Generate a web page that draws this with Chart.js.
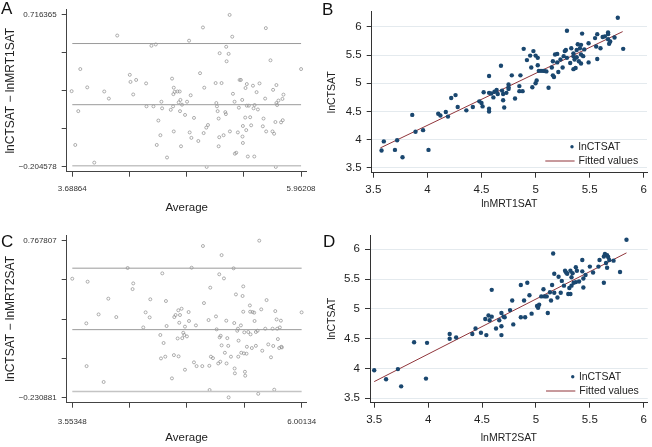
<!DOCTYPE html>
<html>
<head>
<meta charset="utf-8">
<script src="https://cdn.jsdelivr.net/npm/chart.js@4.4.1/dist/chart.umd.min.js"></script>
<style>
  body { margin: 0; background: #fff; }
  #wrap { position: relative; width: 652px; height: 447px; overflow: hidden; font-family: "Liberation Sans", Arial, sans-serif; }
  #wrap canvas { position: absolute; }
  .letter { position: absolute; font-size: 17px; line-height: 17px; color: #111; }
</style>
</head>
<body>
<div id="wrap">
  <canvas id="cA" width="326" height="220" style="left:0;top:0"></canvas>
  <canvas id="cB" width="326" height="220" style="left:326px;top:0"></canvas>
  <canvas id="cC" width="326" height="227" style="left:0;top:220px"></canvas>
  <canvas id="cD" width="326" height="227" style="left:326px;top:220px"></canvas>
  <div class="letter" style="left:1px;top:0">A</div>
  <div class="letter" style="left:322px;top:1px">B</div>
  <div class="letter" style="left:1px;top:233px">C</div>
  <div class="letter" style="left:323px;top:233px">D</div>
</div>
<script>
// ---- A: Bland-Altman lnCTSAT vs lnMRT1SAT ----
const avgA = [3.682,3.718,3.748,3.768,3.837,3.907,4.006,4.052,4.135,4.260,
  4.267,4.294,4.323,4.422,4.426,4.475,4.495,4.518,4.528,4.544,
  4.564,4.574,4.581,4.630,4.667,4.680,4.690,4.693,4.697,4.697,
  4.706,4.733,4.746,4.756,4.759,4.763,4.769,4.779,4.809,4.829,
  4.849,4.855,4.865,4.872,4.898,4.941,4.958,4.987,4.994,5.000,
  5.020,5.024,5.037,5.113,5.120,5.126,5.133,5.143,5.143,5.149,
  5.153,5.172,5.192,5.209,5.215,5.218,5.222,5.242,5.252,5.255,
  5.278,5.285,5.301,5.304,5.318,5.334,5.344,5.351,5.364,5.377,
  5.380,5.384,5.384,5.407,5.410,5.417,5.423,5.423,5.433,5.443,
  5.456,5.466,5.484,5.490,5.497,5.500,5.520,5.533,5.549,5.582,
  5.589,5.605,5.612,5.615,5.658,5.678,5.684,5.694,5.707,5.711,
  5.717,5.717,5.724,5.737,5.763,5.780,5.777,5.787,5.962];
const diffA = [0.254,-0.072,0.133,0.388,0.277,-0.179,0.252,0.209,0.591,0.353,
  0.310,0.234,0.322,0.301,0.162,0.529,0.162,0.537,-0.072,0.076,
  -0.013,0.190,0.150,-0.148,0.141,0.330,0.162,0.236,0.010,0.275,
  0.250,0.252,0.186,0.252,0.133,0.201,-0.080,0.172,0.110,0.190,
  0.560,0.004,0.229,-0.029,0.092,-0.048,0.363,0.640,0.000,0.275,
  0.033,-0.205,0.049,0.303,0.182,0.162,0.133,0.088,-0.080,-0.025,
  0.484,0.303,-0.013,0.127,0.115,0.523,0.435,0.480,0.716,0.010,
  0.584,0.238,0.190,-0.125,-0.119,0.004,0.154,0.322,0.322,0.201,
  -0.021,-0.060,0.043,0.094,0.273,0.018,0.297,0.166,-0.142,0.166,
  0.096,0.047,0.287,0.150,-0.142,0.170,0.248,0.143,0.301,0.041,
  0.088,0.209,0.636,0.010,0.441,0.010,0.262,-0.004,0.067,-0.205,
  0.291,0.182,0.170,0.197,0.065,0.078,0.207,0.233,0.388];
const limitsA = [0.5426, 0.1720, -0.1987];   // upper, mean, lower
const xEndsA = [3.68864, 5.96208];
const yEndsA = [-0.204578, 0.716365];

// ---- B: lnCTSAT vs lnMRT1SAT ----
const mrt1B = [3.576,3.597,3.70,3.72,3.77,3.86,3.89,3.96,4.01,4.10,
  4.12,4.17,4.19,4.22,4.26,4.28,4.36,4.42,4.48,4.50,
  4.51,4.52,4.57,4.57,4.57,4.57,4.59,4.61,4.62,4.64,
  4.65,4.68,4.69,4.70,4.71,4.73,4.75,4.75,4.75,4.70,
  4.78,4.81,4.85,4.86,4.85,4.88,4.89,4.92,4.95,4.96,
  4.97,4.98,5.00,5.00,5.01,5.02,5.02,5.03,5.05,5.07,
  5.08,5.10,5.12,5.15,5.16,5.16,5.17,5.18,5.20,5.20,
  5.21,5.23,5.25,5.26,5.27,5.28,5.29,5.29,5.32,5.33,
  5.35,5.35,5.35,5.37,5.36,5.38,5.39,5.40,5.41,5.42,
  5.42,5.43,5.44,5.45,5.42,5.38,5.49,5.49,5.55,5.56,
  5.57,5.57,5.60,5.62,5.64,5.67,5.67,5.68,5.69,5.73,
  5.76,5.81,5.67];
const ctB = [3.81,3.97,3.82,3.99,3.69,4.44,4.14,4.17,3.82,4.46,
  4.43,4.49,4.41,4.74,4.79,4.58,4.52,4.58,4.68,4.65,
  4.59,4.84,5.13,4.55,4.50,4.83,4.82,4.75,4.85,4.88,
  4.81,5.31,4.87,4.70,4.57,4.83,4.90,4.98,4.93,4.81,
  5.14,4.73,4.95,5.14,4.86,4.86,5.61,5.41,5.49,5.28,
  4.93,5.57,5.49,5.00,5.05,5.32,5.45,5.22,5.22,5.22,
  5.22,5.21,4.92,5.28,5.39,5.14,5.11,5.51,5.52,5.37,
  5.20,5.42,5.28,5.48,5.57,5.59,5.93,5.45,5.36,5.62,
  5.48,5.53,5.25,5.27,5.42,5.59,5.69,5.39,5.62,5.51,
  5.35,5.88,5.48,5.60,5.68,5.46,5.37,5.71,5.80,5.65,
  5.87,5.43,5.62,5.82,5.83,5.87,5.90,5.70,5.74,5.81,
  6.16,5.61,5.78];
const fitXB = [3.565, 5.805];
const fitYB = [3.855, 5.915];

// ---- C: Bland-Altman lnCTSAT vs lnMRT2SAT ----
const avgC = [3.553,3.703,3.706,3.717,3.834,3.888,3.938,4.023,4.144,4.197,
  4.204,4.311,4.336,4.379,4.386,4.493,4.500,4.514,4.528,4.546,
  4.553,4.560,4.617,4.638,4.642,4.656,4.678,4.685,4.688,4.695,
  4.703,4.720,4.727,4.738,4.749,4.756,4.756,4.777,4.795,4.799,
  4.827,4.852,4.873,4.880,4.941,4.948,4.959,5.008,5.016,5.019,
  5.026,5.033,5.055,5.087,5.094,5.111,5.122,5.126,5.133,5.137,
  5.147,5.147,5.172,5.182,5.197,5.200,5.208,5.218,5.222,5.247,
  5.275,5.282,5.286,5.289,5.300,5.314,5.321,5.325,5.328,5.353,
  5.357,5.371,5.378,5.378,5.385,5.389,5.396,5.399,5.413,5.417,
  5.431,5.449,5.452,5.456,5.470,5.477,5.495,5.499,5.513,5.531,
  5.513,5.538,5.549,5.570,5.581,5.613,5.627,5.645,5.674,5.691,
  5.698,5.709,5.720,5.734,5.741,5.748,5.762,5.769,5.780,5.784,
  5.791,6.001];
const diffC = [0.526,0.242,-0.030,0.507,0.299,-0.131,0.399,0.282,0.594,0.460,
  0.496,0.216,0.312,0.280,0.395,0.168,0.019,0.560,0.117,0.030,
  0.384,0.225,-0.108,0.040,0.282,0.295,0.146,0.325,0.032,0.246,
  0.295,0.335,0.148,0.182,0.168,-0.053,0.221,0.159,0.314,0.257,
  0.596,-0.006,0.229,-0.030,-0.030,0.734,0.371,0.263,-0.028,-0.182,
  0.469,0.030,0.021,0.286,0.204,-0.013,0.554,0.153,-0.002,0.163,
  0.676,0.102,0.528,0.055,0.259,-0.013,0.148,0.099,-0.229,0.030,
  0.592,0.244,-0.045,-0.076,0.426,0.195,0.208,0.030,0.132,0.229,
  0.055,0.416,0.477,0.316,0.051,0.185,-0.066,-0.091,0.049,0.093,
  0.187,0.356,0.316,0.172,0.085,0.314,0.310,0.257,0.187,0.195,
  0.099,-0.206,0.768,0.331,0.068,0.208,0.390,0.108,0.026,0.208,
  0.098,-0.180,0.320,0.267,0.208,0.142,0.085,0.216,0.259,0.093,
  0.089,0.312];
const limitsC = [0.593, 0.202, -0.191];
const xEndsC = [3.55348, 6.00134];
const yEndsC = [-0.230881, 0.767807];

// ---- D: lnCTSAT vs lnMRT2SAT ----
const mrt2D = [3.50,3.61,3.72,3.75,3.87,3.98,3.99,4.20,4.20,4.26,
  4.41,4.44,4.49,4.53,4.54,4.56,4.57,4.59,4.59,4.63,
  4.66,4.68,4.68,4.68,4.70,4.71,4.76,4.78,4.79,4.86,
  4.86,4.89,4.90,4.92,4.94,4.96,5.01,5.02,5.03,5.05,
  5.07,5.08,5.10,5.11,5.13,5.14,5.15,5.16,5.17,5.17,
  5.20,5.21,5.23,5.24,5.26,5.27,5.28,5.29,5.30,5.31,
  5.32,5.32,5.33,5.33,5.34,5.35,5.37,5.37,5.38,5.40,
  5.43,5.43,5.44,5.44,5.46,5.50,5.53,5.58,5.59,5.63,
  5.63,5.64,5.65,5.66,5.66,5.67,5.68,5.72,5.78,5.84];
const ctD = [3.97,3.82,3.99,3.70,4.44,3.83,4.43,4.58,4.50,4.52,
  4.58,4.67,4.60,4.83,4.56,4.89,4.81,4.87,5.32,4.67,
  4.81,4.93,4.71,4.56,4.87,4.86,4.98,5.14,4.74,5.40,
  4.86,5.14,4.86,5.44,5.23,4.92,5.05,5.02,5.07,5.21,
  5.33,5.21,5.21,4.93,5.28,5.14,5.40,5.93,5.59,5.27,
  5.19,5.54,5.27,5.47,5.39,5.64,5.61,5.59,5.25,5.35,
  5.25,5.64,5.53,5.39,5.60,5.44,5.70,5.45,5.64,5.46,
  5.82,5.63,5.51,5.36,5.57,5.71,5.61,5.71,5.82,5.44,
  5.88,5.92,5.77,5.69,5.90,5.87,5.82,5.81,5.62,6.16];
const fitXD = [3.50, 5.84];
const fitYD = [3.78, 5.94];

const scatterTicks = [3.5, 4, 4.5, 5, 5.5, 6];

const FONT = '"Liberation Sans", Arial, sans-serif';
const navy = '#1a476f';
const maroon = '#90353b';

function toPts(xs, ys) {
  return xs.map((x, i) => ({ x: x, y: ys[i] }));
}

function fmt(v) {
  return String(v).replace('-', '\u2212');
}

// five evenly spaced ticks, only the ends labelled
function fiveTicks(ends) {
  const step = (ends[1] - ends[0]) / 4;
  return [0, 1, 2, 3, 4].map(i => ({ value: ends[0] + i * step }));
}

// legend drawn inside the plot, bottom right
const cornerLegend = {
  id: 'cornerLegend',
  afterDatasetsDraw(chart, args, o) {
    if (!o.show) return;
    const { ctx, chartArea } = chart;
    const ds = chart.data.datasets;
    const r = chartArea.right, b = chartArea.bottom;
    ctx.save();
    ctx.font = '10.5px ' + FONT;
    ctx.textBaseline = 'middle';
    let y = b - 26;
    ctx.fillStyle = ds[0].backgroundColor;
    ctx.beginPath();
    ctx.arc(r - 75, y, 1.7, 0, Math.PI * 2);
    ctx.fill();
    ctx.fillStyle = '#222';
    ctx.fillText(ds[0].label, r - 68.4, y);
    y = b - 11.7;
    ctx.strokeStyle = ds[1].borderColor;
    ctx.lineWidth = 1;
    ctx.beginPath();
    ctx.moveTo(r - 101.7, y);
    ctx.lineTo(r - 72.4, y);
    ctx.stroke();
    ctx.fillText(ds[1].label, r - 68.4, y);
    ctx.restore();
  }
};

function baChart(id, avg, diff, limits, xEnds, yEnds, box, yTitle) {
  const lines = limits.map((v, i) => ({
    data: [{ x: xEnds[0], y: v }, { x: xEnds[1], y: v }],
    showLine: true, pointRadius: 0,
    borderColor: i === 2 ? '#c4c4c4' : '#9a9a9a',
    borderWidth: i === 2 ? 1.5 : 1
  }));
  new Chart(document.getElementById(id), {
    type: 'scatter',
    data: {
      datasets: [...lines, {
        data: toPts(avg, diff),
        pointRadius: 1.5,
        backgroundColor: 'rgba(255,255,255,0)',
        borderColor: '#8c8c8c',
        borderWidth: 0.7
      }]
    },
    options: {
      responsive: false, animation: false, devicePixelRatio: 1,
      layout: { padding: { left: 0, top: box.top, right: box.w - box.right, bottom: 0 } },
      plugins: { legend: { display: false }, tooltip: { enabled: false } },
      scales: {
        x: {
          type: 'linear', min: box.xMin, max: box.xMax,
          afterBuildTicks: s => { s.ticks = fiveTicks(xEnds); },
          afterFit: s => { s.height = box.h - box.bottom; },
          ticks: {
            autoSkip: false, maxRotation: 0, padding: box.xPad,
            font: { size: 8, family: FONT }, color: '#333',
            callback: (v, i) => (i === 0 || i === 4) ? fmt(xEnds[i === 0 ? 0 : 1]) : ''
          },
          grid: { drawOnChartArea: false, tickLength: 5, tickColor: '#444' },
          border: { color: '#444', width: 1 },
          title: { display: true, text: 'Average', color: '#222',
                   font: { size: 11.5, family: FONT }, padding: { top: 0, bottom: box.xtPad } }
        },
        y: {
          type: 'linear', min: box.yMin, max: box.yMax,
          afterBuildTicks: s => { s.ticks = fiveTicks(yEnds); },
          afterFit: s => { s.width = box.left; },
          ticks: {
            autoSkip: false, padding: 5,
            font: { size: 8, family: FONT }, color: '#333',
            callback: (v, i) => (i === 0 || i === 4) ? fmt(yEnds[i === 0 ? 0 : 1]) : ''
          },
          grid: { drawOnChartArea: false, tickLength: 5, tickColor: '#444' },
          border: { color: '#444', width: 1 },
          title: { display: true, text: yTitle, color: '#222',
                   font: { size: 12, family: FONT }, padding: { top: 3, bottom: 0 } }
        }
      }
    }
  });
}

function fitChart(id, xs, ys, fitX, fitY, box, xTitle) {
  new Chart(document.getElementById(id), {
    type: 'scatter',
    data: {
      datasets: [{
        label: 'lnCTSAT',
        data: toPts(xs, ys),
        pointRadius: 2.2, borderWidth: 0,
        backgroundColor: navy
      }, {
        label: 'Fitted values',
        data: toPts(fitX, fitY),
        showLine: true, pointRadius: 0,
        borderColor: maroon, borderWidth: 1
      }]
    },
    plugins: [cornerLegend],
    options: {
      responsive: false, animation: false, devicePixelRatio: 1,
      layout: { padding: { left: 0, top: box.top, right: box.w - box.right, bottom: 0 } },
      plugins: { legend: { display: false }, tooltip: { enabled: false }, cornerLegend: { show: true } },
      scales: {
        x: {
          type: 'linear', min: box.xMin, max: box.xMax,
          afterBuildTicks: s => { s.ticks = scatterTicks.map(v => ({ value: v })); },
          afterFit: s => { s.height = box.h - box.bottom; },
          ticks: { autoSkip: false, maxRotation: 0, padding: 5,
                   font: { size: 11.5, family: FONT }, color: '#222',
                   callback: v => String(v) },
          grid: { drawOnChartArea: false, tickLength: 5, tickColor: '#333' },
          border: { color: '#333', width: 1 },
          title: { display: true, text: xTitle, color: '#222',
                   font: { size: 10.5, family: FONT }, padding: { top: 0, bottom: box.xtPad } }
        },
        y: {
          type: 'linear', min: box.yMin, max: box.yMax,
          afterBuildTicks: s => { s.ticks = scatterTicks.map(v => ({ value: v })); },
          afterFit: s => { s.width = box.left; },
          ticks: { autoSkip: false, padding: 5,
                   font: { size: 11.5, family: FONT }, color: '#222',
                   callback: v => String(v) },
          grid: { color: '#e4eaee', lineWidth: 1, tickLength: 5, tickColor: '#333' },
          border: { color: '#333', width: 1 },
          title: { display: true, text: 'lnCTSAT', color: '#222',
                   font: { size: 10.5, family: FONT }, padding: { top: 0, bottom: 0 } }
        }
      }
    }
  });
}

baChart('cA', avgA, diffA, limitsA, xEndsA, yEndsA,
  { w: 326, h: 220, left: 66.7, top: 4, right: 306.7, bottom: 171.7,
    xMin: 3.633, xMax: 6.018, yMin: -0.234, yMax: 0.747, xPad: 7, xtPad: 5 },
  'lnCTSAT \u2212 lnMRT1SAT');

fitChart('cB', mrt1B, ctB, fitXB, fitYB,
  { w: 326, h: 220, left: 45.7, top: 3.3, right: 325.7, bottom: 172.7,
    xMin: 3.485, xMax: 6.03, yMin: 3.416, yMax: 6.264, xtPad: 9.5 },
  'lnMRT1SAT');

baChart('cC', avgC, diffC, limitsC, xEndsC, yEndsC,
  { w: 326, h: 227, left: 66.7, top: 15, right: 306.7, bottom: 182.7,
    xMin: 3.4937, xMax: 6.0547, yMin: -0.2627, yMax: 0.804, xPad: 9.5, xtPad: 2.5 },
  'lnCTSAT \u2212 lnMRT2SAT');

fitChart('cD', mrt2D, ctD, fitXD, fitYD,
  { w: 326, h: 227, left: 44, top: 15, right: 325.7, bottom: 182.7,
    xMin: 3.461, xMax: 6.037, yMin: 3.426, yMax: 6.24, xtPad: 2.5 },
  'lnMRT2SAT');
</script>
</body>
</html>
